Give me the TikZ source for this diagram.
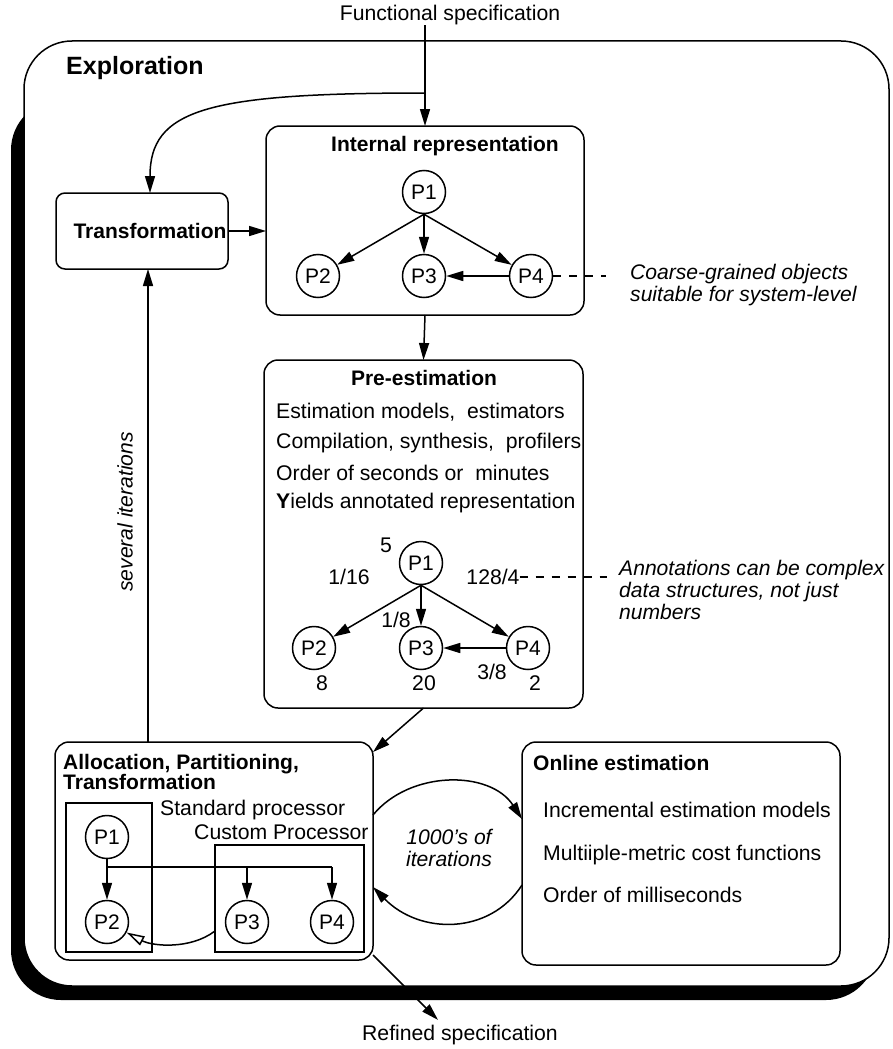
\documentclass[tikz,border=0pt]{standalone}
\usepackage{fontspec}
\setmainfont{Liberation Sans}
\usetikzlibrary{arrows.meta}
\begin{document}
\begin{tikzpicture}[x=1pt,y=-1pt,
  ln/.style={line width=1.5pt},
  arr/.style={ln,-{Triangle[length=17pt,width=10pt]}},
  openarr/.style={ln,-{Triangle[open,length=18pt,width=10pt]}},
  box/.style={draw,ln,rounded corners=14pt,inner sep=0pt,outer sep=0pt},
  plainbox/.style={draw,ln,inner sep=0pt,outer sep=0pt},
  pn/.style={draw,circle,ln,minimum size=43pt,inner sep=0pt,font=\fontsize{21}{22}\selectfont},
  txt/.style={inner sep=0pt,font=\fontsize{21.2}{22}\selectfont},
  ttl/.style={inner sep=0pt,font=\bfseries\fontsize{21}{20}\selectfont},
  itx/.style={inner sep=0pt,align=left,font=\itshape\fontsize{21.1}{22}\selectfont},
  dsh/.style={line width=1.3pt,dash pattern=on 8pt off 8pt}]
\useasboundingbox (0,0) rectangle (892,1049);

% outer exploration frame with its shadow
\fill[black,rounded corners=50pt] (11,100) rectangle (876,1000);
\draw[ln,fill=white,rounded corners=48pt] (24,41) rectangle (889,986);
\node[anchor=west,inner sep=0pt,font=\bfseries\fontsize{25}{28}\selectfont] (expl) at (66,68) {Exploration};

% boxes
\node[box,minimum width=318pt,minimum height=189pt] (ir) at (425,220.5) {};
\node[box,rounded corners=9pt,minimum width=172pt,minimum height=76pt] (tr) at (142,231) {};
\node[box,minimum width=319pt,minimum height=348pt] (pe) at (423.5,534) {};
\node[box,minimum width=318pt,minimum height=218pt] (al) at (214,851) {};
\node[box,minimum width=318pt,minimum height=223pt] (on) at (681,853.5) {};

% input / output specifications
\node[txt] (fs) at (450,15) {Functional specification};
\node[txt] (rs) at (460,1035) {Refined specification};
\coordinate (fork) at (425,93);
\draw[arr] (fs.south -| ir.north) -- (ir.north);
\draw[arr] (fork) .. controls (205,93) and (150,110) .. ([xshift=8pt]tr.north);

% transformation
\node[ttl] (trt) at (150,231) {Transformation};
\draw[arr] (tr.east |- trt) -- (ir.west |- trt);
\draw[arr] ([xshift=6pt]tr.south |- al.north) -- ([xshift=6pt]tr.south);
\node[itx,rotate=90] (sev) at (125,512) {several iterations};

% internal representation
\node[ttl] (irt) at (445,146) {Internal representation};
\node[pn] (a1) at (424,192) {P1};
\node[pn] (a2) at (318,276) {P2};
\node[pn] (a3) at (424,276) {P3};
\node[pn] (a4) at (531,276) {P4};
\draw[arr] (a1.south) -- (a2);
\draw[arr] (a1.south) -- (a3);
\draw[arr] (a1.south) -- (a4);
\draw[arr] (a4) -- (a3);
\coordinate (d1) at (606,276);
\draw[dsh] (a4.east) -- (d1);
\node[itx,anchor=north west] (coarse) at (630,264) {Coarse-grained objects\\suitable for system-level};
\draw[arr] (ir.south) -- (pe.north);

% pre-estimation
\node[ttl] (pet) at (424,378) {Pre-estimation};
\node[txt,anchor=west] (pl1) at (276,412) {Estimation models,\ \ estimators};
\node[txt,anchor=west] (pl2) at (276,443) {Compilation, synthesis,\ \ profilers};
\node[txt,anchor=west] (pl3) at (276,473) {Order of seconds or\ \ minutes};
\node[txt,anchor=west] (pl4) at (276,503) {\textbf{Y}ields annotated representation};
\node[pn] (b1) at (421,563) {P1};
\node[pn] (b2) at (314,648) {P2};
\node[pn] (b3) at (421,648) {P3};
\node[pn] (b4) at (528,648) {P4};
\draw[arr] (b1.south) -- (b2);
\draw[arr] (b1.south) -- (b3);
\draw[arr] (b1.south) -- (b4);
\draw[arr] (b4) -- (b3);
\node[txt] (w1) at (386,545) {5};
\node[txt] (e12) at (349,577) {1/16};
\node[txt] (e14) at (493,577) {128/4};
\node[txt] (e13) at (396,620) {1/8};
\node[txt] (e43) at (492,672) {3/8};
\node[txt] (w2) at (322,683) {8};
\node[txt] (w3) at (424,683) {20};
\node[txt] (w4) at (535,683) {2};
\coordinate (d2) at (607,577);
\draw[dsh] (e14.east) -- (d2);
\node[itx,anchor=north west] (annot) at (619,560) {Annotations can be complex\\data structures, not just\\numbers};
\draw[arr] (pe.south) -- ([yshift=-10pt]al.north east);

% allocation, partitioning, transformation
\node[ttl,anchor=north west,align=left] (alt) at (63,754) {Allocation, Partitioning,\\Transformation};
\node[plainbox,minimum width=86pt,minimum height=149pt] (std) at (109,877.5) {};
\node[plainbox,minimum width=149pt,minimum height=107pt] (cus) at (289.5,898.5) {};
\node[txt,anchor=west] (stdl) at (160,810) {Standard processor};
\node[txt,anchor=west] (cusl) at (194,832) {Custom Processor};
\node[pn] (c1) at (107,837) {P1};
\node[pn] (c2) at (107,922) {P2};
\node[pn] (c3) at (247,922) {P3};
\node[pn] (c4) at (332,922) {P4};
\coordinate (hb) at (0,867);
\draw[arr] (c1.south) -- (c2.north);
\draw[ln] (c1.south |- hb) -- (c4.north |- hb);
\draw[arr] (c3.north |- hb) -- (c3.north);
\draw[arr] (c4.north |- hb) -- (c4.north);
\draw[openarr] ([yshift=-32.5pt]cus.west) .. controls (190,950) and (152,946) .. (c2);
\draw[arr] ([yshift=5pt]al.south east) -- ([xshift=-22pt,yshift=5pt]rs.north);

% online estimation loop
\draw[arr] ([yshift=36pt]al.east) .. controls (410,770) and (490,770) .. ([yshift=34.5pt]on.west);
\draw[arr] ([yshift=-31.5pt]on.west) .. controls (490,935) and (420,935) .. ([yshift=-36pt]al.east);
\node[itx,align=center] (thou) at (449,848) {1000's of\\iterations};
\node[ttl,anchor=west] (ont) at (533,763) {Online estimation};
\node[txt,anchor=west] (ol1) at (543,810) {Incremental estimation models};
\node[txt,anchor=west] (ol2) at (543,855) {Multiiple-metric cost functions};
\node[txt,anchor=west] (ol3) at (543,895) {Order of milliseconds};
\end{tikzpicture}
\end{document}
